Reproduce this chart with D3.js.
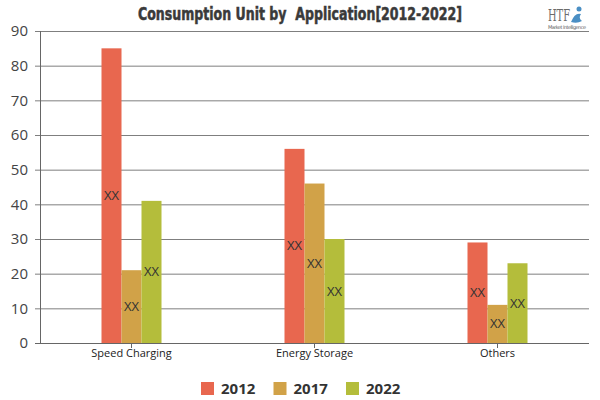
<!DOCTYPE html>
<html><head><meta charset="utf-8">
<script src="https://cdn.jsdelivr.net/npm/d3@7"></script>
<style>body{margin:0;background:#fff}svg{display:block}</style>
</head><body>
<svg id="c" width="600" height="400"></svg>
<script>
const categories = ["Speed Charging", "Energy Storage", "Others"];
const seriesNames = ["2012", "2017", "2022"];
const values2012 = [85, 56, 29];
const values2017 = [21, 46, 11];
const values2022 = [41, 30, 23];
const barLabels = ["XX", "XX", "XX"];
const yTicks = [0, 10, 20, 30, 40, 50, 60, 70, 80, 90];
const colors = ["#e8674f", "#d1a248", "#b4bd3b"];
const seriesValues = [values2012, values2017, values2022];

(function(){
const svg = d3.select("#c");
const pL = 40, pR = 589, pT = 31, pB = 343;
const x0 = d3.scaleBand().domain(categories).range([pL, pR]);
const bw = x0.bandwidth();
const x1 = d3.scaleBand().domain(seriesNames).range([bw/2 - 30, bw/2 + 30]);
const y = d3.scaleLinear().domain([0, 90]).range([pB, pT]);

// grid
svg.append("g").selectAll("line").data(yTicks.filter(d=>d>0)).join("line")
  .attr("x1", pL - 5).attr("x2", pR).attr("y1", d=>y(d)+0.5).attr("y2", d=>y(d)+0.5)
  .attr("stroke", "#7f7f7f").attr("stroke-width", 1);

// y labels
svg.append("g").selectAll("text").data(yTicks).join("text")
  .attr("x", 28).attr("y", d=>y(d)).attr("dy", "0.35em").attr("text-anchor", "end")
  .attr("font-family", "'Open Sans', 'Noto Sans', sans-serif").attr("font-size", 15)
  .attr("fill", "#444").text(d=>d);

// bars
const groups = svg.append("g").selectAll("g").data(categories).join("g")
  .attr("transform", c=>`translate(${x0(c)},0)`);
groups.selectAll("rect").data((c,i)=>seriesNames.map((s,j)=>({s, v: seriesValues[j][i], j})))
  .join("rect")
  .attr("x", d=>x1(d.s)).attr("width", x1.bandwidth())
  .attr("y", d=>y(d.v)).attr("height", d=>y(0)-y(d.v))
  .attr("fill", d=>colors[d.j]);
groups.selectAll("text").data((c,i)=>seriesNames.map((s,j)=>({s, v: seriesValues[j][i], j, lab: barLabels[i]})))
  .join("text")
  .attr("x", d=>x1(d.s)+x1.bandwidth()/2).attr("y", d=>y(d.v/2)).attr("dy","0.35em")
  .attr("text-anchor","middle").attr("font-family","'Open Sans', sans-serif").attr("font-size",13)
  .attr("fill","#333").text(d=>d.lab);

// axes lines
svg.append("line").attr("x1", pL+0.5).attr("x2", pL+0.5).attr("y1", pT).attr("y2", pB)
  .attr("stroke", "#666");
svg.append("line").attr("x1", pL - 5).attr("x2", pR).attr("y1", pB+0.5).attr("y2", pB+0.5)
  .attr("stroke", "#666");
svg.append("g").selectAll("line").data(categories).join("line")
  .attr("x1", c=>x0(c)+bw/2).attr("x2", c=>x0(c)+bw/2).attr("y1", pB).attr("y2", pB+5)
  .attr("stroke", "#666");
svg.append("g").selectAll("text").data(categories).join("text")
  .attr("x", c=>x0(c)+bw/2).attr("y", 357).attr("text-anchor","middle")
  .attr("font-family","'Open Sans', sans-serif").attr("font-size",11).attr("fill","#222").text(c=>c);

// title
svg.append("text").attr("x", 300).attr("y", 20).attr("text-anchor","middle")
  .style("white-space","pre")
  .attr("font-family","Impact, 'DejaVu Sans Condensed', 'Liberation Sans Narrow', sans-serif")
  .attr("font-weight","bold").attr("font-size",17).attr("fill","#3a3a3a")
  .attr("stroke","#3a3a3a").attr("stroke-width",0.5)
  .attr("textLength", 324).attr("lengthAdjust","spacingAndGlyphs")
  .text("Consumption Unit by  Application[2012-2022]");

// legend
const lg = svg.append("g").selectAll("g").data(seriesNames).join("g")
  .attr("transform", (d,i)=>`translate(${201 + i*72.5},382)`);
lg.append("rect").attr("width",13).attr("height",13).attr("fill",(d,i)=>colors[i]);
lg.append("text").attr("x",20).attr("y",12).attr("font-family","'Open Sans', sans-serif")
  .attr("font-weight","bold").attr("font-size",15).attr("fill","#333").text(d=>d);

// logo
const logo = svg.append("g").attr("transform","translate(548,4)");
logo.append("text").attr("x",0).attr("y",17).attr("font-family","'DejaVu Serif', serif")
  .attr("font-size",17).attr("fill","#6b6b6b").attr("textLength",22).attr("lengthAdjust","spacingAndGlyphs").text("HTF");
logo.append("path").attr("d","M23,18 Q27,8 33,10 Q30,14 34,17 Q29,20 23,18 Z").attr("fill","#4a8fc4");
logo.append("circle").attr("cx",31).attr("cy",5).attr("r",2.5).attr("fill","#4a8fc4");
logo.append("text").attr("x",0).attr("y",25).attr("font-family","'DejaVu Sans', sans-serif")
  .attr("font-size",5).attr("fill","#666").attr("textLength",38).text("Market Intelligence");
})();
</script>
</body></html>
